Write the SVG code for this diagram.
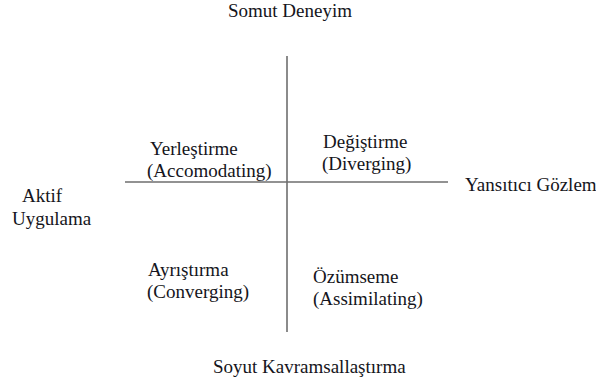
<svg xmlns="http://www.w3.org/2000/svg" width="596" height="380" viewBox="0 0 596 380">
<style>
text{font-family:"Liberation Serif","Times New Roman",serif;font-size:19px;fill:#151520}
.ax{stroke:#6e6e6e;stroke-width:1.6;fill:none}
</style>
<rect width="596" height="380" fill="#fff"/>
<g id="connectors">
<line class="ax" x1="287" y1="56" x2="287" y2="332"/>
<line class="ax" x1="125" y1="182" x2="448" y2="182"/>
</g>
<g id="somut"><text x="228" y="17">Somut Deneyim</text></g>
<g id="soyut"><text x="213" y="373">Soyut Kavramsallaştırma</text></g>
<g id="aktif"><text x="22" y="202">Aktif</text><text x="12" y="225">Uygulama</text></g>
<g id="yansitici"><text x="465" y="191">Yansıtıcı Gözlem</text></g>
<g id="accomodating"><text x="150" y="155">Yerleştirme</text><text x="147" y="177">(Accomodating)</text></g>
<g id="diverging"><text x="323" y="148">Değiştirme</text><text x="322" y="170">(Diverging)</text></g>
<g id="converging"><text x="148" y="276">Ayrıştırma</text><text x="147" y="298">(Converging)</text></g>
<g id="assimilating"><text x="313" y="283">Özümseme</text><text x="313" y="305">(Assimilating)</text></g>
</svg>
